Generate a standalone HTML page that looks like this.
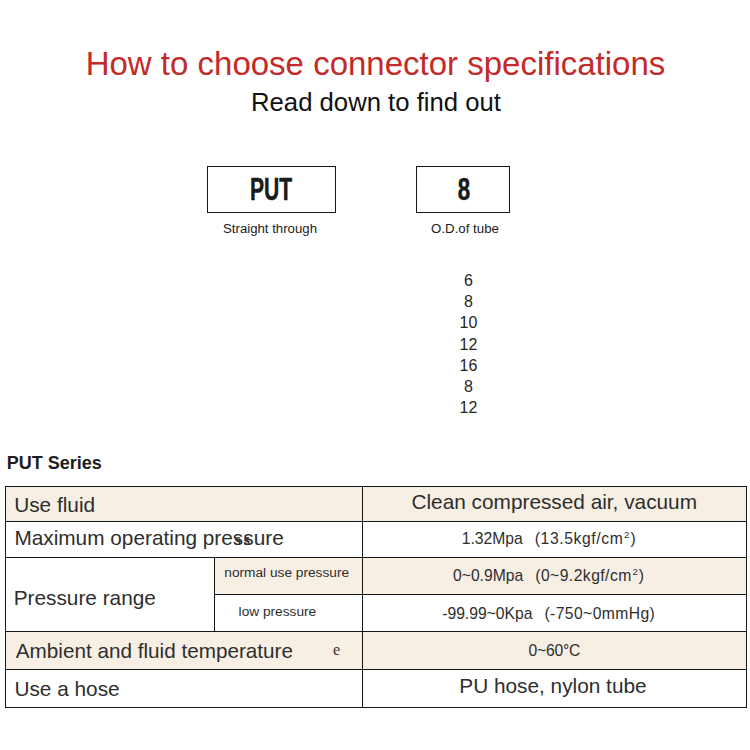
<!DOCTYPE html>
<html><head><meta charset="utf-8"><style>
html,body{margin:0;padding:0;background:#fff;}
body{width:750px;height:750px;position:relative;overflow:hidden;font-family:"Liberation Sans", sans-serif;}
.t{position:absolute;white-space:nowrap;line-height:1;}
.r{position:absolute;box-sizing:content-box;}
</style></head><body>
<div class="t" style="top:47.27px;font-size:33.0px;color:#c42a2a;font-weight:400;font-family:'Liberation Sans', sans-serif;left:75.50px;width:600px;text-align:center;">How to choose connector specifications</div>
<div class="t" style="top:90.34px;font-size:25.7px;color:#111;font-weight:400;font-family:'Liberation Sans', sans-serif;left:76.00px;width:600px;text-align:center;">Read down to find out</div>
<div class="r" style="left:207px;top:166px;width:127px;height:45px;border:1px solid #161616"></div>
<div class="r" style="left:416px;top:166px;width:92px;height:45px;border:1px solid #161616"></div>
<div class="t" style="top:173.76px;font-size:31px;color:#1a1a1a;font-weight:700;font-family:'Liberation Sans', sans-serif;left:-29.25px;width:600px;text-align:center;transform:scaleX(0.68);transform-origin:50% 50%;-webkit-text-stroke:0.5px #1a1a1a;">PUT</div>
<div class="t" style="top:173.76px;font-size:31px;color:#1a1a1a;font-weight:700;font-family:'Liberation Sans', sans-serif;left:164.00px;width:600px;text-align:center;transform:scaleX(0.72);transform-origin:50% 50%;-webkit-text-stroke:0.5px #1a1a1a;">8</div>
<div class="t" style="top:222.00px;font-size:13.7px;color:#222;font-weight:400;font-family:'Liberation Sans', sans-serif;left:-30.15px;width:600px;text-align:center;transform:scaleX(0.965);transform-origin:50% 50%;">Straight through</div>
<div class="t" style="top:222.00px;font-size:13.7px;color:#222;font-weight:400;font-family:'Liberation Sans', sans-serif;left:164.85px;width:600px;text-align:center;transform:scaleX(0.97);transform-origin:50% 50%;">O.D.of tube</div>
<div class="t" style="top:272.86px;font-size:16px;color:#262626;font-weight:400;font-family:'Liberation Sans', sans-serif;left:168.50px;width:600px;text-align:center;">6</div>
<div class="t" style="top:293.66px;font-size:16px;color:#262626;font-weight:400;font-family:'Liberation Sans', sans-serif;left:168.50px;width:600px;text-align:center;">8</div>
<div class="t" style="top:314.66px;font-size:16px;color:#262626;font-weight:400;font-family:'Liberation Sans', sans-serif;left:168.50px;width:600px;text-align:center;">10</div>
<div class="t" style="top:336.86px;font-size:16px;color:#262626;font-weight:400;font-family:'Liberation Sans', sans-serif;left:168.50px;width:600px;text-align:center;">12</div>
<div class="t" style="top:357.86px;font-size:16px;color:#262626;font-weight:400;font-family:'Liberation Sans', sans-serif;left:168.50px;width:600px;text-align:center;">16</div>
<div class="t" style="top:378.86px;font-size:16px;color:#262626;font-weight:400;font-family:'Liberation Sans', sans-serif;left:168.50px;width:600px;text-align:center;">8</div>
<div class="t" style="top:400.46px;font-size:16px;color:#262626;font-weight:400;font-family:'Liberation Sans', sans-serif;left:168.50px;width:600px;text-align:center;">12</div>
<div class="t" style="top:454.26px;font-size:18.0px;color:#1e1e1e;font-weight:700;font-family:'Liberation Sans', sans-serif;left:6.80px;">PUT Series</div>
<div class="r" style="left:6px;top:487px;width:356px;height:34px;background:#f7eee4"></div>
<div class="r" style="left:363px;top:487px;width:383px;height:34px;background:#f7eee4"></div>
<div class="r" style="left:215px;top:558px;width:147px;height:36px;background:#f7eee4"></div>
<div class="r" style="left:363px;top:558px;width:383px;height:36px;background:#f7eee4"></div>
<div class="r" style="left:6px;top:632px;width:356px;height:37px;background:#f7eee4"></div>
<div class="r" style="left:363px;top:632px;width:383px;height:37px;background:#f7eee4"></div>
<div class="r" style="left:5px;top:486px;width:742px;height:1px;background:#161616"></div>
<div class="r" style="left:5px;top:521px;width:742px;height:1px;background:#161616"></div>
<div class="r" style="left:5px;top:557px;width:742px;height:1px;background:#161616"></div>
<div class="r" style="left:214px;top:594px;width:533px;height:1px;background:#161616"></div>
<div class="r" style="left:5px;top:631px;width:742px;height:1px;background:#161616"></div>
<div class="r" style="left:5px;top:669px;width:742px;height:1px;background:#161616"></div>
<div class="r" style="left:5px;top:707px;width:742px;height:1px;background:#161616"></div>
<div class="r" style="left:5px;top:486px;width:1px;height:222px;background:#161616"></div>
<div class="r" style="left:746px;top:486px;width:1px;height:222px;background:#161616"></div>
<div class="r" style="left:362px;top:486px;width:1px;height:222px;background:#161616"></div>
<div class="r" style="left:214px;top:557px;width:1px;height:75px;background:#161616"></div>
<div class="t" style="top:495.39px;font-size:20.8px;color:#2e2e2e;font-weight:400;font-family:'Liberation Sans', sans-serif;left:14.20px;">Use fluid</div>
<div class="t" style="top:527.59px;font-size:20.8px;color:#2e2e2e;font-weight:400;font-family:'Liberation Sans', sans-serif;left:14.40px;">Maximum operating pressure</div>
<div class="t" style="top:532.18px;font-size:16.5px;color:#333;font-weight:700;font-family:'Liberation Serif', serif;left:234.50px;letter-spacing:2.5px;">ss</div>
<div class="t" style="top:588.19px;font-size:20.8px;color:#2e2e2e;font-weight:400;font-family:'Liberation Sans', sans-serif;left:13.70px;">Pressure range</div>
<div class="t" style="top:566.40px;font-size:13.7px;color:#2e2e2e;font-weight:400;font-family:'Liberation Sans', sans-serif;left:224.30px;">normal use pressure</div>
<div class="t" style="top:605.20px;font-size:13.7px;color:#2e2e2e;font-weight:400;font-family:'Liberation Sans', sans-serif;left:238.60px;">low pressure</div>
<div class="t" style="top:640.98px;font-size:20.7px;color:#2e2e2e;font-weight:400;font-family:'Liberation Sans', sans-serif;left:15.80px;">Ambient and fluid temperature</div>
<div class="t" style="top:641.60px;font-size:16px;color:#333;font-weight:400;font-family:'Liberation Serif', serif;left:333.00px;">e</div>
<div class="t" style="top:678.69px;font-size:20.8px;color:#2e2e2e;font-weight:400;font-family:'Liberation Sans', sans-serif;left:14.40px;">Use a hose</div>
<div class="t" style="top:491.59px;font-size:20.8px;color:#2e2e2e;font-weight:400;font-family:'Liberation Sans', sans-serif;left:254.25px;width:600px;text-align:center;">Clean compressed air, vacuum</div>
<div class="t" style="top:531.11px;left:461.70px;font-size:15.7px;color:#2e2e2e;">1.32Mpa<span style="margin-left:12.00px;letter-spacing:0.6px">(13.5kgf/cm<span style="font-size:9.5px;line-height:0;vertical-align:6.6px;margin-left:0.8px;margin-right:0.6px">2</span>)</span></div>
<div class="t" style="top:568.21px;left:453.00px;font-size:15.7px;color:#2e2e2e;">0~0.9Mpa<span style="margin-left:12.00px;letter-spacing:0.45px">(0~9.2kgf/cm<span style="font-size:9.5px;line-height:0;vertical-align:6.6px;margin-left:0.8px;margin-right:0.6px">2</span>)</span></div>
<div class="t" style="top:606.31px;left:442.20px;font-size:15.7px;color:#2e2e2e;">-99.99~0Kpa<span style="margin-left:12.00px;letter-spacing:0.4px">(-750~0mmHg)</span></div>
<div class="t" style="top:642.91px;font-size:15.7px;color:#2e2e2e;font-weight:400;font-family:'Liberation Sans', sans-serif;left:254.40px;width:600px;text-align:center;letter-spacing:-0.2px;">0~60°C</div>
<div class="t" style="top:676.39px;font-size:20.8px;color:#2e2e2e;font-weight:400;font-family:'Liberation Sans', sans-serif;left:252.95px;width:600px;text-align:center;">PU hose, nylon tube</div>
</body></html>
